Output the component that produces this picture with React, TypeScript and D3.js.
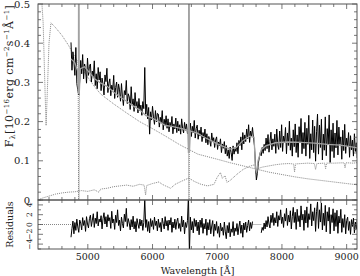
import React from "react";
import * as d3 from "d3";

// observed spectrum, sampled every 15 A from 4740 A
const obsStart = 4740;
const obsStep = 15;
const obsFlux = [
  0.402, 0.331, 0.378, 0.352, 0.318, 0.389, 0.297, 0.281, 0.268, 0.305,
  0.356, 0.322, 0.371, 0.309, 0.347, 0.334, 0.298, 0.362, 0.318, 0.341,
  0.347, 0.301, 0.329, 0.315, 0.355, 0.292, 0.322, 0.284, 0.338, 0.306,
  0.327, 0.279, 0.311, 0.296, 0.268, 0.319, 0.302, 0.336, 0.274, 0.298,
  0.309, 0.266, 0.293, 0.281, 0.318, 0.259, 0.287, 0.301, 0.262, 0.296,
  0.281, 0.252, 0.297, 0.263, 0.241, 0.279, 0.268, 0.305, 0.246, 0.271,
  0.263, 0.231, 0.289, 0.244, 0.258, 0.226, 0.274, 0.239, 0.251, 0.222,
  0.259, 0.228, 0.242, 0.216, 0.251, 0.233, 0.338, 0.219, 0.244, 0.207,
  0.236, 0.168, 0.225, 0.204, 0.239, 0.212, 0.193, 0.228, 0.199, 0.221,
  0.219, 0.186, 0.211, 0.197, 0.228, 0.179, 0.206, 0.191, 0.215, 0.183,
  0.207, 0.174, 0.198, 0.186, 0.213, 0.169, 0.194, 0.181, 0.209, 0.172,
  0.201, 0.176, 0.192, 0.168, 0.207, 0.183, 0.171, 0.198, 0.178, 0.194,
  0.169, 0.181, 0.176, 0.196, 0.162, 0.188, 0.171, 0.203, 0.158, 0.182,
  0.191, 0.155, 0.178, 0.163, 0.186, 0.149, 0.172, 0.158, 0.181, 0.146,
  0.169, 0.141, 0.162, 0.152, 0.137, 0.171, 0.148, 0.159, 0.134, 0.153,
  0.161, 0.129, 0.148, 0.138, 0.156, 0.121, 0.143, 0.132, 0.149, 0.118,
  0.139, 0.112, 0.128, 0.106, 0.135, 0.121, 0.101, 0.138, 0.117, 0.131,
  0.124, 0.146, 0.118, 0.152, 0.139, 0.161, 0.128, 0.172, 0.143, 0.166,
  0.149, 0.181, 0.156, 0.192, 0.147, 0.176, 0.162, 0.185, 0.158, 0.139,
  0.092, 0.051, 0.068, 0.094, 0.108, 0.121, 0.113, 0.134, 0.119, 0.142,
  0.126, 0.158, 0.131, 0.167, 0.122, 0.149, 0.173, 0.128, 0.156, 0.137,
  0.168, 0.119, 0.181, 0.141, 0.129, 0.176, 0.134, 0.192, 0.124, 0.163,
  0.147, 0.185, 0.118, 0.171, 0.139, 0.201, 0.127, 0.158, 0.112, 0.179,
  0.136, 0.194, 0.121, 0.166, 0.109, 0.187, 0.148, 0.208, 0.118, 0.172,
  0.131, 0.198, 0.112, 0.183, 0.142, 0.216, 0.106, 0.169, 0.128, 0.204,
  0.121, 0.188, 0.099, 0.174, 0.219, 0.117, 0.191, 0.134, 0.206, 0.102,
  0.168, 0.127, 0.212, 0.113, 0.182, 0.141, 0.217, 0.096, 0.179, 0.124,
  0.196, 0.108, 0.171, 0.133, 0.203, 0.115, 0.186, 0.142, 0.161, 0.104,
  0.178, 0.126, 0.193, 0.119, 0.158, 0.137, 0.172, 0.109, 0.164, 0.128,
  0.153, 0.112, 0.169, 0.124, 0.146, 0.107, 0.158, 0.131,
];

// residuals on the same grid, null where the telluric band was masked
const residuals = [
  -2.6, -0.8, 0.7, -1.9, 0.4, -1.2, 1.1, -0.5, -1.6, 0.9,
  0.3, -1.1, 1.4, -0.2, 0.8, -1.4, 1.6, 0.1, -0.7, 1.2,
  1.9, -0.4, 0.9, 2.2, -0.6, 1.3, 0.2, 2.6, -0.3, 1.1,
  0.5, 1.8, -0.9, 1.2, 2.4, 0.1, 1.6, -0.5, 2.0, 0.7,
  1.4, -0.8, 2.7, 0.3, 1.1, -1.0, 1.9, 0.4, 3.0, -0.2,
  0.9, -1.3, 1.5, 0.2, -0.7, 2.1, 0.6, 3.3, -0.4, 1.2,
  0.3, -1.1, 1.0, -0.5, 1.7, -0.9, 0.6, -1.5, 1.2, 0.1,
  -0.8, 1.1, -0.3, 0.9, -1.2, 0.4, 5.2, -0.6, 1.0, -1.4,
  0.6, -1.7, 1.2, -0.4, 0.8, -1.0, 1.5, -0.2, 0.7, -1.3,
  1.1, -0.6, 0.4, -1.5, 1.3, 0.2, -0.9, 1.6, -0.3, 0.8,
  -1.2, 0.9, -0.1, 1.4, -1.6, 0.5, -0.7, 1.1, -1.0, 0.6,
  1.3, -0.8, 0.2, -1.4, 1.7, -0.5, 0.9, -1.9, 0.4, -0.6,
  0.8, 6, -6, 1.5, -1.1, 0.6, -1.7, 1.2, -0.4, 0.9,
  -1.3, 0.5, -2.1, 0.9, -0.6, 1.3, -1.8, 0.2, -0.9, 1.1,
  -2.2, 0.4, -1.1, 1.0, -1.9, -0.3, 0.8, -2.4, 0.1, -1.2,
  0.6, -1.8, -0.4, -2.6, 0.3, -1.3, -0.6, -2.2, 0.5, -1.5,
  -2.9, -0.2, -1.7, 0.4, -2.5, -0.9, -1.6, 0.6, -2.3, -0.7,
  -1.4, 0.2, -2.1, -0.5, 0.7, -1.8, -0.1, -2.6, 0.3, -1.1,
  0.5, -1.6, -0.2, 0.9, -1.3, 0.4, -0.8, 0.6, null, null,
  null, null, null, null, null, null, -1.7, -0.6, -1.2, 0.3,
  -0.9, 0.8, -0.5, 1.6, 0.1, -0.7, 1.9, 0.4, 2.3, -0.2,
  1.4, 0.3, 2.6, -0.4, 1.8, 0.9, 3.0, 0.2, 1.5, -0.6,
  2.2, 0.7, 3.3, -0.2, 1.9, 0.5, 2.8, -0.9, 1.6, 3.5,
  0.4, 2.5, -1.0, 3.1, 0.6, 1.8, -0.5, 3.8, 0.9, 2.1,
  -1.2, 2.9, 0.3, 3.6, -0.6, 2.2, 1.0, 4.2, -0.3, 2.6,
  0.8, 3.4, -1.4, 2.7, 4.6, -0.8, 3.0, 0.5, 4.4, -1.1,
  2.3, -0.2, 3.9, -1.5, 2.6, 0.7, 3.5, -1.9, 2.0, 0.4,
  3.2, -1.3, 2.4, -0.4, 2.9, -1.8, 1.7, 0.3, 3.1, -1.6,
  1.2, -0.6, 2.0, -1.9, 0.8, 1.5, -1.2, 0.6, -2.0, 1.0,
  -0.4, 1.3, -1.7, 0.5, -0.9, 1.1, -1.3, 0.2,
];

// best fit model (grey)
const fitWave = [4740, 4800, 4840, 4855, 4859, 4863, 4867, 4885, 4950, 5000, 5100, 5200, 5300, 5400, 5500, 5600, 5700, 5800, 5900, 6000, 6100, 6200, 6300, 6400, 6500, 6545, 6556, 6561, 6565, 6570, 6585, 6700, 6800, 6900, 7000, 7100, 7200, 7300, 7400, 7500, 7570, 7590, 7610, 7630, 7680, 7750, 7900, 8100, 8300, 8500, 8700, 8900, 9100, 9200];
const fitFlux = [0.36, 0.35, 0.33, 0.27, 0.8, 0.8, 0.27, 0.335, 0.34, 0.33, 0.31, 0.298, 0.29, 0.275, 0.263, 0.252, 0.24, 0.23, 0.215, 0.208, 0.2, 0.19, 0.188, 0.184, 0.18, 0.178, 0.12, 0.9, 0.9, 0.12, 0.176, 0.17, 0.16, 0.152, 0.143, 0.136, 0.13, 0.135, 0.152, 0.163, 0.16, 0.08, 0.07, 0.1, 0.128, 0.138, 0.146, 0.148, 0.147, 0.145, 0.142, 0.14, 0.135, 0.132];

// hot component (dotted)
const hotWave = [4230, 4280, 4310, 4335, 4355, 4375, 4400, 4430, 4500, 4600, 4700, 4800, 4850, 4858, 4864, 4872, 4900, 5000, 5100, 5200, 5400, 5600, 5800, 6000, 6200, 6400, 6500, 6555, 6560, 6566, 6571, 6700, 7000, 7200, 7400, 7600, 7800, 8000, 8200, 8400, 8600, 8800, 9000, 9200];
const hotFlux = [0.58, 0.53, 0.45, 0.3, 0.19, 0.28, 0.4, 0.452, 0.44, 0.42, 0.395, 0.365, 0.352, 0.0, 0.0, 0.345, 0.338, 0.313, 0.29, 0.27, 0.245, 0.222, 0.2, 0.182, 0.163, 0.143, 0.134, 0.13, 0.0, 0.0, 0.128, 0.117, 0.104, 0.095, 0.087, 0.079, 0.071, 0.065, 0.059, 0.054, 0.05, 0.046, 0.042, 0.038];

// cool component (dotted)
const coolWave = [4230, 4300, 4400, 4500, 4600, 4700, 4800, 4900, 5000, 5100, 5170, 5200, 5300, 5400, 5500, 5600, 5700, 5800, 5870, 5893, 5910, 6000, 6100, 6150, 6200, 6280, 6350, 6450, 6560, 6650, 6750, 6850, 6950, 7000, 7050, 7080, 7120, 7150, 7200, 7300, 7400, 7500, 7580, 7600, 7620, 7700, 7800, 7900, 8000, 8100, 8180, 8195, 8210, 8300, 8400, 8500, 8520, 8540, 8660, 8675, 8690, 8800, 8960, 8975, 8990, 9100, 9200];
const coolFlux = [0.0, 0.005, 0.01, 0.015, 0.018, 0.02, 0.021, 0.024, 0.022, 0.026, 0.02, 0.028, 0.03, 0.034, 0.036, 0.038, 0.035, 0.04, 0.038, 0.013, 0.037, 0.042, 0.046, 0.04, 0.036, 0.03, 0.04, 0.048, 0.056, 0.047, 0.04, 0.036, 0.04, 0.058, 0.07, 0.055, 0.062, 0.045, 0.05, 0.065, 0.078, 0.086, 0.09, 0.068, 0.08, 0.084, 0.087, 0.09, 0.092, 0.093, 0.092, 0.072, 0.092, 0.093, 0.094, 0.093, 0.078, 0.093, 0.094, 0.08, 0.094, 0.094, 0.095, 0.082, 0.095, 0.094, 0.096];

// dotted zero line where no residuals exist
const zeroSpans = [[4230, 4740], [7545, 7680]];

const xMajor = [5000, 6000, 7000, 8000, 9000];
const yMajor = [0, 0.1, 0.2, 0.3, 0.4, 0.5];
const yLabels = ["0", "0.1", "0.2", "0.3", "0.4", "0.5"];
const resMajor = [-4, -2, 0, 2, 4];
const resLabels = ["−4", "−2", "0", "2", "4"];

const W = 360;
const H = 276;
const m = { left: 38, right: 357, top: 4, mid: 200, bottom: 249 };
const font = "'DejaVu Serif', serif";
const axisCol = "#555";

export default function App() {
  const x = d3.scaleLinear().domain([4230, 9160]).range([m.left, m.right]);
  const y = d3.scaleLinear().domain([0, 0.5]).range([m.mid, m.top]);
  const yr = d3.scaleLinear().domain([-5, 5]).range([m.bottom, m.mid]);

  const obsWave = obsFlux.map((_, i) => obsStart + i * obsStep);

  const lineMain = d3
    .line<[number, number]>()
    .x((d) => x(d[0]))
    .y((d) => y(d[1]));
  const lineRes = d3
    .line<[number, number | null]>()
    .defined((d) => d[1] !== null)
    .x((d) => x(d[0]))
    .y((d) => yr(d[1] as number));

  const obsPath = lineMain(obsWave.map((w, i) => [w, obsFlux[i]]));
  const fitPath = lineMain(fitWave.map((w, i) => [w, fitFlux[i]]));
  const hotPath = lineMain(hotWave.map((w, i) => [w, hotFlux[i]]));
  const coolPath = lineMain(coolWave.map((w, i) => [w, coolFlux[i]]));
  const resPath = lineRes(obsWave.map((w, i) => [w, residuals[i]]));

  const xMinor = d3.range(4400, 9200, 200).filter((v) => v % 1000 !== 0);
  const yMinor = d3.range(0, 0.5, 0.02).filter((v) => Math.abs(v * 10 - Math.round(v * 10)) > 1e-6);
  const resMinor = d3.range(-5, 6, 1).filter((v) => v % 2 !== 0);

  const xTicks = (yy: number, dir: number) => (
    <g stroke={axisCol} strokeWidth={0.8}>
      {xMajor.map((v) => (
        <line key={"M" + v} x1={x(v)} x2={x(v)} y1={yy} y2={yy + dir * 5} />
      ))}
      {xMinor.map((v) => (
        <line key={"m" + v} x1={x(v)} x2={x(v)} y1={yy} y2={yy + dir * 3} />
      ))}
    </g>
  );

  return (
    <svg
      width={W}
      height={H}
      style={{ position: "absolute", left: 0, top: 0, background: "#fff" }}
      fontFamily={font}
    >
      <defs>
        <clipPath id="clipMain">
          <rect x={m.left} y={m.top} width={m.right - m.left} height={m.mid - m.top} />
        </clipPath>
        <clipPath id="clipRes">
          <rect x={m.left} y={m.mid} width={m.right - m.left} height={m.bottom - m.mid} />
        </clipPath>
      </defs>

      {/* main panel */}
      <g clipPath="url(#clipMain)" fill="none">
        <path d={hotPath || ""} stroke="#777" strokeWidth={0.9} strokeDasharray="1,1" />
        <path d={coolPath || ""} stroke="#777" strokeWidth={0.9} strokeDasharray="1,1" />
        <path d={obsPath || ""} stroke="#000" strokeWidth={1} />
        <path d={fitPath || ""} stroke="#a2a2a2" strokeWidth={1.3} />
      </g>

      {/* residual panel */}
      <g clipPath="url(#clipRes)" fill="none">
        {zeroSpans.map((s, i) => (
          <line key={i} x1={x(s[0])} x2={x(s[1])} y1={yr(0)} y2={yr(0)} stroke="#777" strokeWidth={0.9} strokeDasharray="1,1" />
        ))}
        <path d={resPath || ""} stroke="#000" strokeWidth={1} />
      </g>

      {/* frames */}
      <rect x={m.left} y={m.top} width={m.right - m.left} height={m.mid - m.top} fill="none" stroke={axisCol} strokeWidth={1} />
      <rect x={m.left} y={m.mid} width={m.right - m.left} height={m.bottom - m.mid} fill="none" stroke={axisCol} strokeWidth={1} />

      {xTicks(m.top, 1)}
      {xTicks(m.mid, -1)}
      {xTicks(m.mid, 1)}
      {xTicks(m.bottom, -1)}

      <g stroke={axisCol} strokeWidth={0.8}>
        {yMajor.map((v) => (
          <g key={"y" + v}>
            <line x1={m.left} x2={m.left + 5} y1={y(v)} y2={y(v)} />
            <line x1={m.right} x2={m.right - 5} y1={y(v)} y2={y(v)} />
          </g>
        ))}
        {yMinor.map((v) => (
          <g key={"ym" + v}>
            <line x1={m.left} x2={m.left + 3} y1={y(v)} y2={y(v)} />
            <line x1={m.right} x2={m.right - 3} y1={y(v)} y2={y(v)} />
          </g>
        ))}
        {resMajor.map((v) => (
          <g key={"r" + v}>
            <line x1={m.left} x2={m.left + 5} y1={yr(v)} y2={yr(v)} />
            <line x1={m.right} x2={m.right - 5} y1={yr(v)} y2={yr(v)} />
          </g>
        ))}
        {resMinor.map((v) => (
          <g key={"rm" + v}>
            <line x1={m.left} x2={m.left + 3} y1={yr(v)} y2={yr(v)} />
            <line x1={m.right} x2={m.right - 3} y1={yr(v)} y2={yr(v)} />
          </g>
        ))}
      </g>

      {/* tick labels */}
      <g fontSize={9.5} fill="#222">
        {yMajor.map((v, i) => (
          <text key={v} x={m.left - 8} y={y(v) + 3.5} textAnchor="end" fontSize={10}>
            {yLabels[i]}
          </text>
        ))}
        {resMajor.map((v, i) => (
          <text key={"rl" + v} transform={`translate(${m.left - 6},${yr(v)}) rotate(-90)`} textAnchor="middle" fontSize={7.5}>
            {resLabels[i]}
          </text>
        ))}
        {xMajor.map((v) => (
          <text key={v} x={x(v)} y={260} textAnchor="middle">
            {v}
          </text>
        ))}
        <text x={(m.left + m.right) / 2} y={274} textAnchor="middle">
          Wavelength [Å]
        </text>
      </g>

      {/* axis titles */}
      <text transform="translate(13,76) rotate(-90)" textAnchor="middle" fontSize={11} letterSpacing={0.4} fill="#222">
        F<tspan fontSize={7.5} dy={2}>λ</tspan>
        <tspan dy={-2}>[10</tspan>
        <tspan fontSize={7} dy={-4}>−16</tspan>
        <tspan dy={4}>erg cm</tspan>
        <tspan fontSize={7} dy={-4}>−2</tspan>
        <tspan dy={4}>s</tspan>
        <tspan fontSize={7} dy={-4}>−1</tspan>
        <tspan dy={4}>Å</tspan>
        <tspan fontSize={7} dy={-4}>−1</tspan>
        <tspan dy={4}>]</tspan>
      </text>
      <text transform={`translate(13,${yr(0)}) rotate(-90)`} textAnchor="middle" fontSize={9.5} fill="#222">
        Residuals
      </text>
    </svg>
  );
}
